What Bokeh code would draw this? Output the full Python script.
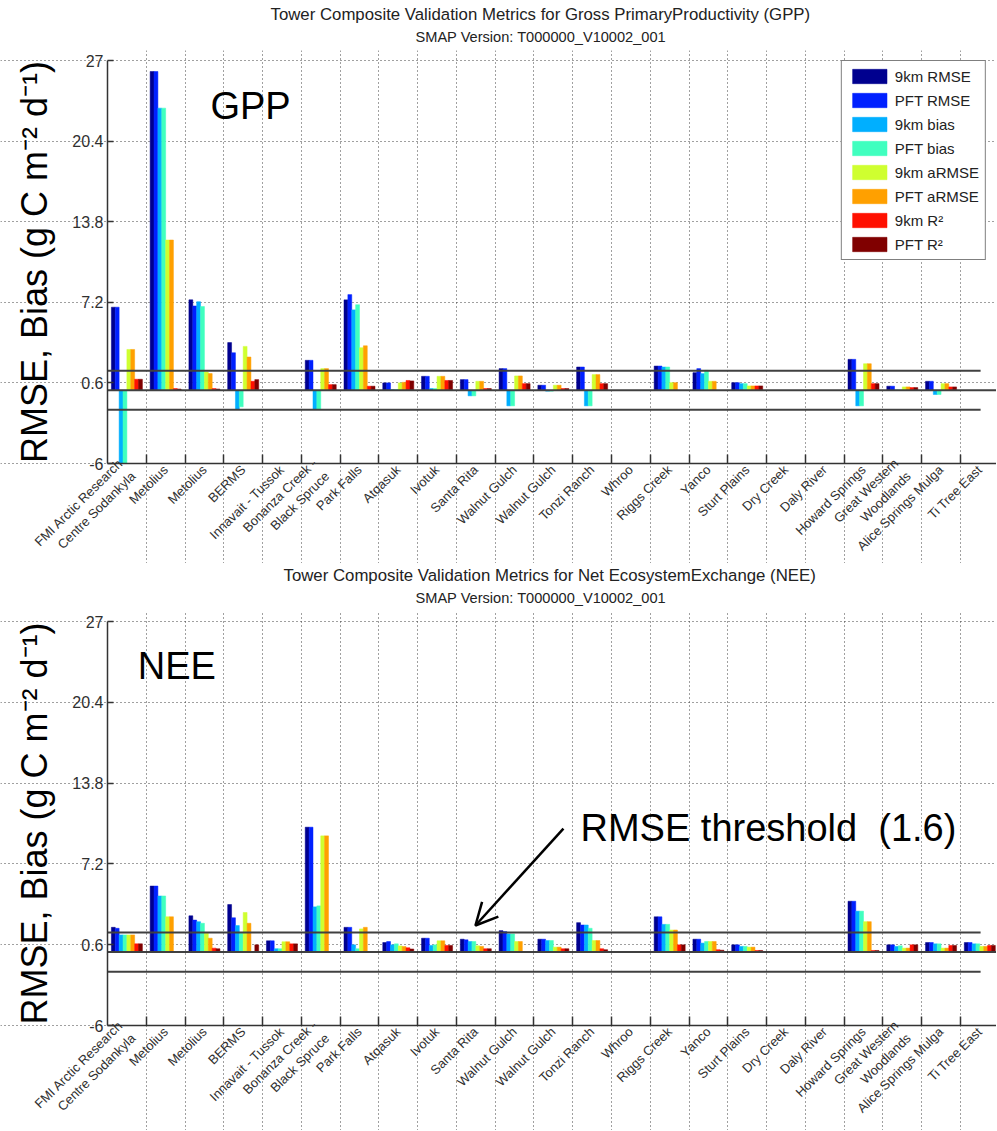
import math
import numpy as np
from bokeh.plotting import figure
from bokeh.models import (Range1d, FixedTicker, CustomJSTickFormatter, Label,
                          Arrow, OpenHead, Title)
from bokeh.layouts import column
from bokeh.embed import file_html
from bokeh.resources import INLINE

nan = float("nan")

# ---------------- data ----------------
sites = ["FMI Arctic Research\nCentre Sodankyla", "Metolius", "Metolius", "BERMS",
         "Innavait - Tussok", "Bonanza Creek -\nBlack Spruce", "Park Falls", "Atqasuk",
         "Ivotuk", "Santa Rita", "Walnut Gulch", "Walnut Gulch", "Tonzi Ranch", "Whroo",
         "Riggs Creek", "Yanco", "Sturt Plains", "Dry Creek", "Daly River",
         "Howard Springs", "Great Western\nWoodlands", "Alice Springs Mulga", "Ti Tree East"]

series_names = ["9km RMSE", "PFT RMSE", "9km bias", "PFT bias",
                "9km aRMSE", "PFT aRMSE", "9km R\u00b2", "PFT R\u00b2"]
series_colors = ["#00008f", "#0020ff", "#00afff", "#40ffbf",
                 "#cfff30", "#ffa000", "#ff1000", "#800000"]

y_ticks = [-6, 0.6, 7.2, 13.8, 20.4, 27]
thresholds = [1.6, -1.6]

gpp_9km_rmse = [6.8, 26.1, 7.4, 3.9, nan, 2.45, 7.4, 0.6, 1.14, 0.87, 1.77, 0.41, 1.9, nan, 1.98, 1.44, 0.62, nan, nan, 2.53, 0.33, 0.73, nan]
gpp_pft_rmse = [6.8, 26.1, 6.9, 3.07, nan, 2.45, 7.83, 0.6, 1.14, 0.87, 1.77, 0.41, 1.9, nan, 1.98, 1.77, 0.62, nan, nan, 2.53, 0.33, 0.73, nan]
gpp_9km_bias = [-6.3, 23.1, 7.25, -1.58, nan, -1.58, 6.58, 0.05, 0.14, -0.46, -1.28, -0.08, -1.28, nan, 1.9, 1.36, 0.54, nan, nan, -1.28, 0.02, -0.35, nan]
gpp_pft_bias = [-6.3, 23.1, 6.85, -1.36, nan, -1.58, 7.0, 0.05, 0.14, -0.46, -1.28, -0.08, -1.28, nan, 1.9, 1.63, 0.54, nan, nan, -1.28, 0.02, -0.35, nan]
gpp_9km_armse = [3.34, 12.3, 1.5, 3.59, nan, 1.77, 3.48, 0.6, 1.14, 0.73, 1.17, 0.41, 1.28, nan, 0.62, 0.73, 0.35, nan, nan, 2.17, 0.27, 0.54, nan]
gpp_pft_armse = [3.34, 12.3, 1.36, 2.72, nan, 1.77, 3.64, 0.65, 1.14, 0.73, 1.17, 0.41, 1.28, nan, 0.62, 0.73, 0.35, nan, nan, 2.17, 0.27, 0.54, nan]
gpp_9km_r2 = [0.9, 0.14, 0.14, 0.73, nan, 0.46, 0.33, 0.8, 0.8, 0.14, 0.54, 0.14, 0.54, nan, nan, nan, 0.35, nan, nan, 0.54, 0.22, 0.27, nan]
gpp_pft_r2 = [0.9, 0.1, 0.1, 0.87, nan, 0.46, 0.33, 0.76, 0.8, 0.14, 0.54, 0.14, 0.54, nan, nan, nan, 0.35, nan, nan, 0.54, 0.22, 0.27, nan]

nee_9km_rmse = [2.02, 5.39, 2.96, 3.88, 0.92, 10.2, 2.02, 0.78, 1.13, 1.05, 1.75, 1.05, 2.4, nan, 2.88, 1.05, 0.59, nan, nan, 4.15, 0.59, 0.78, 0.78]
nee_pft_rmse = [1.94, 5.39, 2.61, 2.8, 0.92, 10.2, 2.02, 0.86, 1.13, 1.0, 1.67, 1.05, 2.21, nan, 2.88, 1.05, 0.59, nan, nan, 4.15, 0.59, 0.78, 0.78]
nee_9km_bias = [1.4, 4.58, 2.48, 2.16, 0.27, 3.69, 0.59, 0.59, 0.54, 0.86, 1.48, 0.94, 2.21, nan, 2.26, 0.73, 0.46, nan, nan, 3.34, 0.46, 0.67, 0.67]
nee_pft_bias = [1.4, 4.58, 2.35, 1.54, 0.27, 3.77, 0.27, 0.67, 0.59, 0.86, 1.48, 0.94, 1.94, nan, 2.26, 0.86, 0.46, nan, nan, 3.34, 0.51, 0.67, 0.67]
nee_9km_armse = [1.4, 2.88, 1.54, 3.23, 0.84, 9.49, 1.89, 0.5, 0.92, 0.51, 0.86, 0.4, 0.94, nan, 1.8, 0.86, 0.4, nan, nan, 2.48, 0.32, 0.32, 0.46]
nee_pft_armse = [1.4, 2.88, 1.13, 2.35, 0.84, 9.49, 2.02, 0.45, 0.92, 0.46, 0.86, 0.4, 0.94, nan, 1.8, 0.86, 0.4, nan, nan, 2.48, 0.32, 0.32, 0.46]
nee_9km_r2 = [0.67, nan, 0.32, nan, 0.67, nan, nan, 0.35, 0.54, 0.27, nan, 0.27, 0.27, nan, 0.59, 0.19, 0.13, nan, nan, 0.13, 0.59, 0.54, 0.54]
nee_pft_r2 = [0.67, nan, 0.27, 0.59, 0.67, nan, nan, 0.25, 0.54, 0.27, nan, 0.27, 0.19, nan, 0.59, 0.15, 0.13, nan, nan, 0.13, 0.59, 0.54, 0.54]

gpp_values = [gpp_9km_rmse, gpp_pft_rmse, gpp_9km_bias, gpp_pft_bias,
              gpp_9km_armse, gpp_pft_armse, gpp_9km_r2, gpp_pft_r2]
nee_values = [nee_9km_rmse, nee_pft_rmse, nee_9km_bias, nee_pft_bias,
              nee_9km_armse, nee_pft_armse, nee_9km_r2, nee_pft_r2]

# ---------------- style / layout ----------------
FONT = "Liberation Sans"
TXT = "#303030"
BAR_W = 0.1
N = len(sites)
PX_PER_SITE = 38.77
LEFT_PX = 107                      # room for the y axis, inside the frame
FIG_W = 996
X_LO = 0.5
X_START = X_LO - LEFT_PX / PX_PER_SITE
X_MAX = X_START + FIG_W / PX_PER_SITE
LABEL_ANGLE = 0.78
Y_LO, Y_HI = -6, 27
TOP_EXT = 10                       # headroom so the "27" tick label is not cut
PAD = "\u00a0"


def make_panel(values, title1, t1_off, tag, top_border, plot_h, label_h, legend):
    # frame is extended left (y axis), up and down (x labels) so nothing is clipped
    ppu = plot_h / (Y_HI - Y_LO)
    y_start = Y_LO - label_h / ppu
    y_end = Y_HI + TOP_EXT / ppu
    p = figure(frame_width=FIG_W, frame_height=plot_h + label_h + TOP_EXT,
               x_range=Range1d(X_START, X_MAX), y_range=Range1d(y_start, y_end),
               min_border_left=0, min_border_right=0,
               min_border_top=top_border - TOP_EXT, min_border_bottom=0,
               output_backend="svg", toolbar_location=None,
               outline_line_color=None, background_fill_color="white",
               border_fill_color="white")

    # titles (added nearest first)
    p.add_layout(Title(text="SMAP Version: T000000_V10002_001", align="left",
                       offset=415, standoff=17 - TOP_EXT, vertical_align="top",
                       text_font=FONT, text_font_size="14.6px",
                       text_font_style="normal", text_color="#222222"), "above")
    p.add_layout(Title(text=title1, align="left", offset=t1_off, standoff=0,
                       vertical_align="top", text_font=FONT,
                       text_font_size="16.8px", text_font_style="normal",
                       text_color="#222222"), "above")

    # ticks / grid
    centers = list(range(1, N + 1))
    boundaries = [i + 0.5 for i in range(1, N + 1)]
    p.xaxis.ticker = FixedTicker(ticks=centers, minor_ticks=boundaries)
    p.xaxis.fixed_location = Y_LO
    p.xaxis.bounds = (X_LO, X_MAX)
    p.yaxis.fixed_location = X_LO
    p.yaxis.ticker = FixedTicker(ticks=y_ticks)
    p.yaxis.bounds = (Y_LO, Y_HI)
    p.xgrid.ticker = FixedTicker(ticks=boundaries)
    p.xgrid.bounds = (Y_LO, Y_HI)
    p.ygrid.bounds = (X_LO, X_MAX)
    for g in (p.xgrid, p.ygrid):
        g.grid_line_color = "#404040"
        g.grid_line_dash = "1 3"
        g.grid_line_width = 1

    # x axis: labels at group centres, tick marks at boundaries
    p.xaxis.formatter = CustomJSTickFormatter(
        args=dict(labels=sites),
        code="const i = Math.round(tick) - 1; return (i >= 0 && i < labels.length) ? labels[i] : '';")
    p.xaxis.major_label_orientation = LABEL_ANGLE
    p.xaxis.major_label_text_font = FONT
    p.xaxis.major_label_text_font_size = "13px"
    p.xaxis.major_label_text_color = TXT
    p.xaxis.major_label_standoff = 4
    p.xaxis.major_tick_in = 0
    p.xaxis.major_tick_out = 0
    p.xaxis.minor_tick_in = 9
    p.xaxis.minor_tick_out = 0
    p.xaxis.minor_tick_line_color = "#333333"
    p.xaxis.minor_tick_line_width = 1.5

    p.yaxis.formatter = CustomJSTickFormatter(
        code="return tick.toFixed(1).replace(/\\.0$/, '')")
    p.yaxis.major_tick_in = 6
    p.yaxis.major_tick_out = 0
    p.yaxis.minor_tick_line_color = None
    p.yaxis.major_tick_line_color = "#333333"
    p.yaxis.major_tick_line_width = 1.5
    p.yaxis.major_label_text_font = FONT
    p.yaxis.major_label_text_font_size = "16px"
    p.yaxis.major_label_text_color = TXT
    p.yaxis.major_label_standoff = 4
    p.yaxis.axis_label = PAD + "RMSE,  Bias (g C m\u207b\u00b2 d\u207b\u00b9)"
    p.yaxis.axis_label_text_font = FONT
    p.yaxis.axis_label_text_font_size = "36px"
    p.yaxis.axis_label_text_font_style = "normal"
    p.yaxis.axis_label_text_color = "black"
    p.yaxis.axis_label_standoff = 14
    for ax in (p.xaxis, p.yaxis):
        ax.axis_line_color = "#333333"
        ax.axis_line_width = 1.5

    # bars
    site_idx = np.arange(1, N + 1)
    for k, (name, color, vals) in enumerate(zip(series_names, series_colors, values)):
        xs = site_idx + (k - 3.5) * BAR_W
        top = np.maximum(np.array(vals, dtype=float), Y_LO)  # axis floor clips
        kw = dict(legend_label=name) if legend else {}
        p.vbar(x=xs, top=top, bottom=0, width=BAR_W,
               fill_color=color, line_color=color, line_width=0.5, **kw)

    # reference lines (threshold +/-1.6 and zero baseline)
    for t in thresholds:
        p.line(x=[X_LO, 23.02], y=[t, t], line_color="#404040", line_width=2)
    p.line(x=[X_LO, X_MAX + 1], y=[0, 0], line_color="#404040", line_width=2)

    # big tag
    p.add_layout(Label(x=tag[1], y=tag[2], text=tag[0], text_align="center",
                       text_baseline="middle", text_font=FONT,
                       text_font_size="38px", text_color="black"))

    if legend:
        lg = p.legend[0]
        lg.location = "top_right"
        lg.margin = 10
        lg.border_line_color = "black"
        lg.border_line_width = 1
        lg.background_fill_color = "white"
        lg.background_fill_alpha = 1
        lg.label_text_font = FONT
        lg.label_text_font_size = "15px"
        lg.label_text_color = "#222222"
        lg.glyph_width = 43
        lg.glyph_height = 18
        lg.spacing = 6
        lg.padding = 6
        lg.label_standoff = 4
    return p


p1 = make_panel(gpp_values,
                "Tower Composite Validation Metrics for Gross PrimaryProductivity (GPP)",
                270, ("GPP", 4.19, 23.3), 60, 403, 100, True)
p2 = make_panel(nee_values,
                "Tower Composite Validation Metrics for Net EcosystemExchange (NEE)",
                283, ("NEE", 2.29, 23.4), 58, 404, 105, False)

p2.add_layout(Label(x=12.7, y=10.17, text="RMSE threshold\u00a0 (1.6)",
                    text_align="left", text_baseline="middle", text_font=FONT,
                    text_font_size="38px", text_color="black"))
p2.add_layout(Arrow(end=OpenHead(size=22, line_width=2.5, line_color="black"),
                    x_start=12.26, y_start=10.08, x_end=9.99, y_end=2.17,
                    line_width=2.5, line_color="black"))

layout = column(p1, p2)
open("out.html", "w").write(file_html(layout, INLINE))
